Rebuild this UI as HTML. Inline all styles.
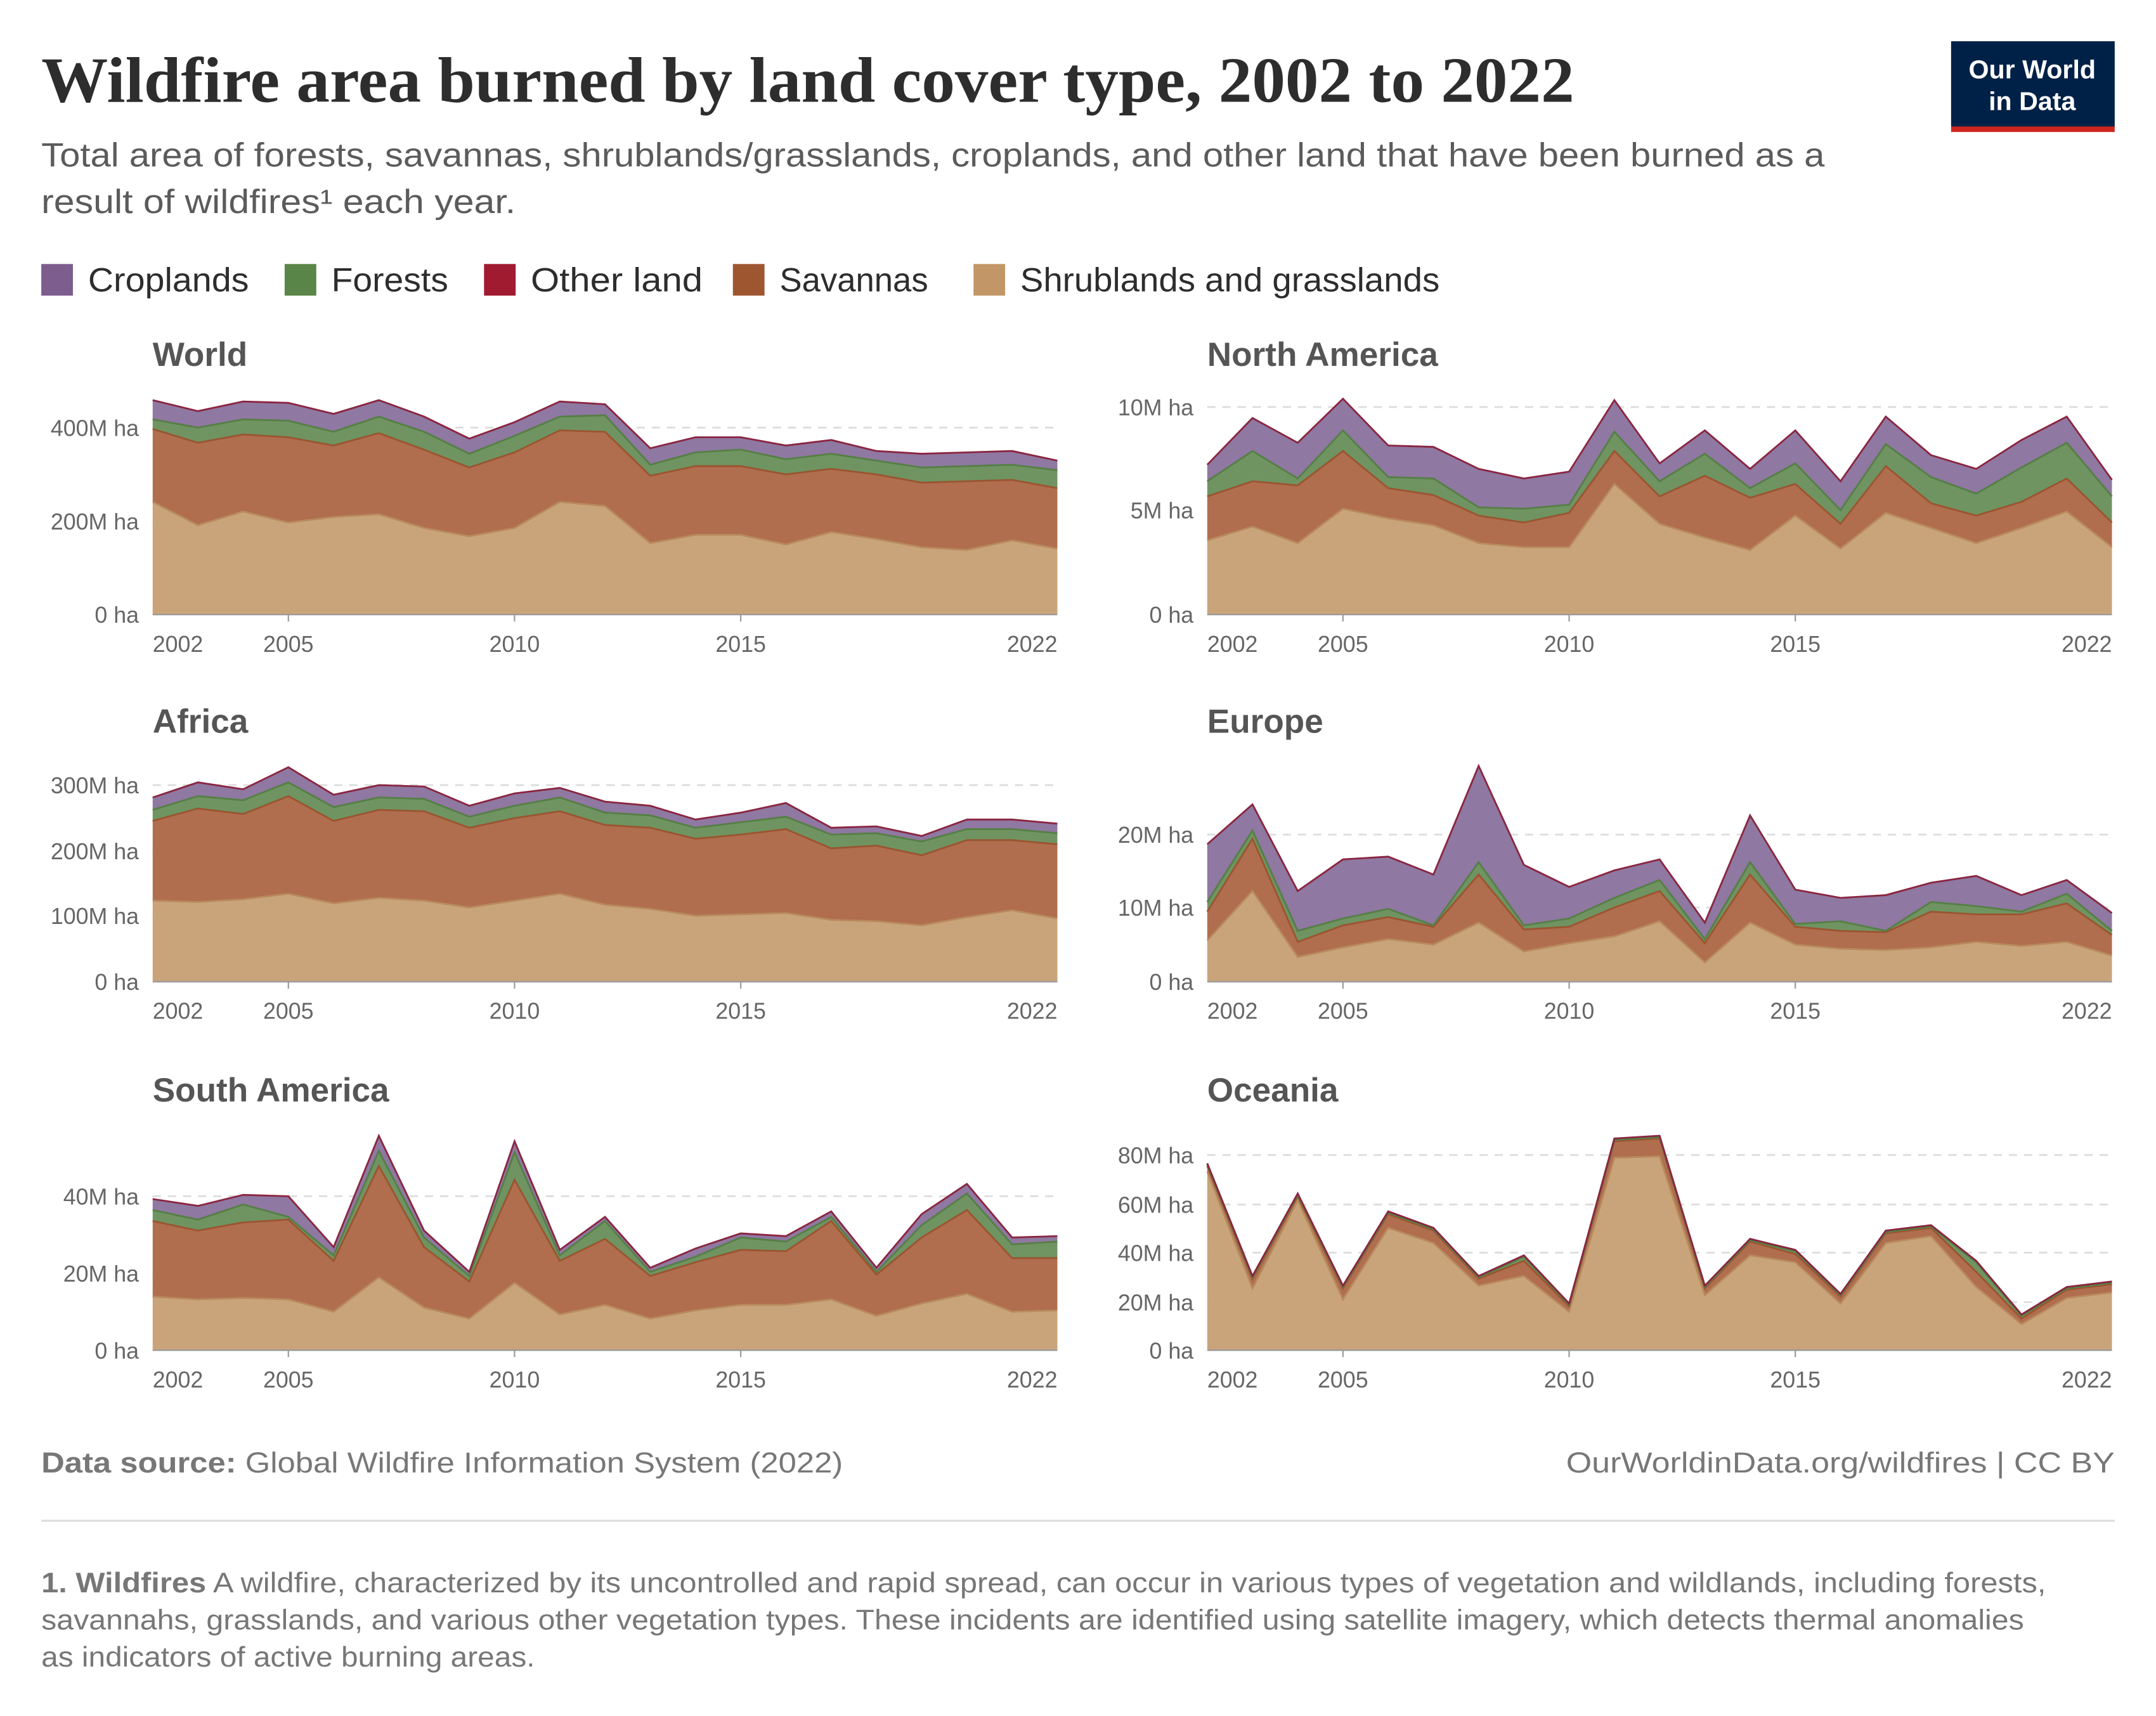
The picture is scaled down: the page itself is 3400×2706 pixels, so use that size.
<!DOCTYPE html>
<html><head><meta charset="utf-8">
<style>
html,body{margin:0;padding:0;background:#fff;}
svg{display:block;}
text{font-family:"Liberation Sans",sans-serif;}
</style></head>
<body>
<svg id="s" width="3400" height="2706" viewBox="0 0 1568 1248" xmlns="http://www.w3.org/2000/svg">
<rect width="1568" height="1248" fill="#fff"/>
<text x="30" y="74" style="font-family:'Liberation Serif',serif" font-weight="bold" font-size="47" fill="#2d2d2d" textLength="1115" lengthAdjust="spacingAndGlyphs">Wildfire area burned by land cover type, 2002 to 2022</text>
<text x="30" y="121" font-size="24.5" fill="#5b5b5b" textLength="1297" lengthAdjust="spacingAndGlyphs">Total area of forests, savannas, shrublands/grasslands, croplands, and other land that have been burned as a</text>
<text x="30" y="155" font-size="24.5" fill="#5b5b5b" textLength="345" lengthAdjust="spacingAndGlyphs">result of wildfires¹ each year.</text>
<rect x="1419" y="30" width="119" height="62" fill="#002147"/>
<rect x="1419" y="92" width="119" height="4" fill="#ce261e"/>
<text x="1478" y="57" font-size="19" font-weight="bold" fill="#fff" text-anchor="middle">Our World</text>
<text x="1478" y="80" font-size="19" font-weight="bold" fill="#fff" text-anchor="middle">in Data</text>
<g font-size="24.5" fill="#2d2d2d">
<rect x="30" y="192" width="23" height="23" fill="#7d5c8e"/><text x="64" y="212" textLength="117" lengthAdjust="spacingAndGlyphs">Croplands</text>
<rect x="207" y="192" width="23" height="23" fill="#5a8548"/><text x="241" y="212" textLength="85" lengthAdjust="spacingAndGlyphs">Forests</text>
<rect x="352" y="192" width="23" height="23" fill="#a01a30"/><text x="386" y="212" textLength="125" lengthAdjust="spacingAndGlyphs">Other land</text>
<rect x="533" y="192" width="23" height="23" fill="#9e5631"/><text x="567" y="212" textLength="108" lengthAdjust="spacingAndGlyphs">Savannas</text>
<rect x="708" y="192" width="23" height="23" fill="#c29667"/><text x="742" y="212" textLength="305" lengthAdjust="spacingAndGlyphs">Shrublands and grasslands</text>
</g>
<g font-size="24.5" font-weight="bold" fill="#555">
<text x="111" y="266">World</text><text x="878" y="266">North America</text>
<text x="111" y="533">Africa</text><text x="878" y="533">Europe</text>
<text x="111" y="801">South America</text><text x="878" y="801">Oceania</text>
</g>
<g id="charts"></g>
<g font-size="21" fill="#777">
<text x="30" y="1071" textLength="583" lengthAdjust="spacingAndGlyphs"><tspan font-weight="bold">Data source:</tspan> Global Wildfire Information System (2022)</text>
<text x="1139" y="1071" textLength="399" lengthAdjust="spacingAndGlyphs">OurWorldinData.org/wildfires | CC BY</text>
</g>
<line x1="30" y1="1106" x2="1538" y2="1106" stroke="#ddd" stroke-width="1.5"/>
<g font-size="20.5" fill="#777">
<text x="30" y="1158" textLength="1458" lengthAdjust="spacingAndGlyphs"><tspan font-weight="bold">1. Wildfires</tspan> A wildfire, characterized by its uncontrolled and rapid spread, can occur in various types of vegetation and wildlands, including forests,</text>
<text x="30" y="1185" textLength="1442" lengthAdjust="spacingAndGlyphs">savannahs, grasslands, and various other vegetation types. These incidents are identified using satellite imagery, which detects thermal anomalies</text>
<text x="30" y="1212" textLength="359" lengthAdjust="spacingAndGlyphs">as indicators of active burning areas.</text>
</g>
</svg>
<script>
var P=[
{x0:111,x1:769,b:447,ticks:[[447,"0 ha"],[379,"200M ha"],[311,"400M ha"]],
L:[[365,382,372,380,376,374,384,390,384,365,368,395,389,389,396,387,392,398,400,393,399],
[312,322,316,318,324,315,327,340,329,313,314,346,339,339,345,341,345,351,350,349,355],
[305,311,305,306,314,303,314,330,317,303,302,338,329,327,334,330,335,340,339,338,342],
[291,299,292,293,301,291,303,319,307,292,294,326,318,318,324,320,328,330,329,328,335]]},
{x0:878,x1:1536,b:447,ticks:[[447,"0 ha"],[371,"5M ha"],[296,"10M ha"]],
L:[[393,383,395,370,377,382,395,398,398,352,381,391,400,375,399,373,384,395,384,372,398],
[361,350,353,328,355,360,375,380,373,328,361,346,362,352,381,339,366,375,365,348,380],
[350,328,348,313,347,348,369,370,367,314,350,330,355,337,371,323,347,359,340,322,361],
[338,304,322,290,324,325,341,348,343,291,337,313,341,313,350,303,331,341,320,303,349]]},
{x0:111,x1:769,b:714,ticks:[[714,"0 ha"],[666,"100M ha"],[619,"200M ha"],[571,"300M ha"]],
L:[[655,656,654,650,657,653,655,660,655,650,658,661,666,665,664,669,670,673,667,662,668],
[597,588,592,579,597,589,590,602,595,590,600,602,610,607,603,617,615,622,611,611,614],
[589,579,582,569,587,580,581,594,586,580,591,593,602,598,594,607,606,612,603,603,606],
[580,569,574,558,578,571,572,586,577,573,583,586,596,591,584,602,601,608,596,596,599]]},
{x0:878,x1:1536,b:714,ticks:[[714,"0 ha"],[660,"10M ha"],[607,"20M ha"]],
L:[[684,648,696,689,683,687,671,692,686,681,670,700,671,687,690,691,689,685,688,685,695],
[663,610,685,673,667,674,636,676,674,660,648,686,636,674,677,678,663,665,665,657,680],
[656,604,677,668,661,673,627,673,668,653,640,683,627,672,670,677,656,659,663,650,677],
[614,585,648,625,623,636,557,629,645,633,625,671,593,647,653,651,642,637,651,640,664]]},
{x0:111,x1:769,b:982,ticks:[[982,"0 ha"],[926,"20M ha"],[870,"40M ha"]],
L:[[943,945,944,945,954,929,951,959,933,956,949,959,953,949,949,945,957,948,941,954,953],
[888,895,889,887,917,848,907,932,858,917,901,928,918,909,910,888,927,900,880,915,915],
[880,887,876,885,913,837,900,928,838,913,888,925,914,900,903,885,925,891,868,905,903],
[872,877,869,870,907,826,895,925,830,909,885,922,908,897,899,881,922,883,861,900,899]]},
{x0:878,x1:1536,b:982,ticks:[[982,"0 ha"],[947,"20M ha"],[911,"40M ha"],[876,"60M ha"],[840,"80M ha"]],
L:[[852,937,873,945,893,904,935,928,954,842,841,942,913,918,948,904,899,936,963,944,940],
[848,930,870,937,883,895,930,917,950,830,828,937,903,912,943,897,893,925,959,938,934],
[847,929,869,936,882,894,929,914,949,829,827,936,902,910,942,896,892,918,957,937,933],
[846,928,868,935,881,893,928,913,948,828,826,935,901,909,941,895,891,917,956,936,932]]}
];
var fills=["#c9a47b","#b06e4f","#6f9462","#8f78a1"],strokes=["#b88a5c","#9a5530","#557f45","#6d4f80"];
var ns="http://www.w3.org/2000/svg",g=document.getElementById("charts");
function el(t,a,txt){var e=document.createElementNS(ns,t);for(var k in a)e.setAttribute(k,a[k]);if(txt)e.textContent=txt;g.appendChild(e);return e;}
P.forEach(function(p){
var dx=(p.x1-p.x0)/20;
p.ticks.forEach(function(t,i){
 if(i>0)el("line",{x1:p.x0,x2:p.x1,y1:t[0],y2:t[0],stroke:"#ddd","stroke-dasharray":"6,5","stroke-width":1.3});
 el("text",{x:p.x0-10,y:t[0]+6,"font-size":"16.5",fill:"#666","text-anchor":"end"},t[1]);
});
for(var l=3;l>=0;l--){
 var below=l==0?null:p.L[l-1],pts=[];
 for(var i=0;i<21;i++)pts.push((p.x0+i*dx)+","+p.L[l][i]);
 var bpts=[];
 for(var i=20;i>=0;i--)bpts.push((p.x0+i*dx)+","+(below?below[i]:p.b));
 el("polygon",{points:pts.concat(bpts).join(" "),fill:fills[l]});
}
for(var l=0;l<4;l++){
 var pts=[];for(var i=0;i<21;i++)pts.push((p.x0+i*dx)+","+p.L[l][i]);
 el("polyline",{points:pts.join(" "),fill:"none",stroke:l==3?"#8a2540":strokes[l],"stroke-width":1.3});
}
el("line",{x1:p.x0,x2:p.x1,y1:p.b,y2:p.b,stroke:"#999","stroke-width":1});
[[2002,"start",0],[2005,"middle",3],[2010,"middle",8],[2015,"middle",13],[2022,"end",20]].forEach(function(y){
 el("text",{x:p.x0+y[2]*dx,y:p.b+27,"font-size":"16.5",fill:"#666","text-anchor":y[1]},String(y[0]));
 if(y[2]>0&&y[2]<20)el("line",{x1:p.x0+y[2]*dx,x2:p.x0+y[2]*dx,y1:p.b,y2:p.b+5,stroke:"#999"});
});
});
</script>
</body></html>
